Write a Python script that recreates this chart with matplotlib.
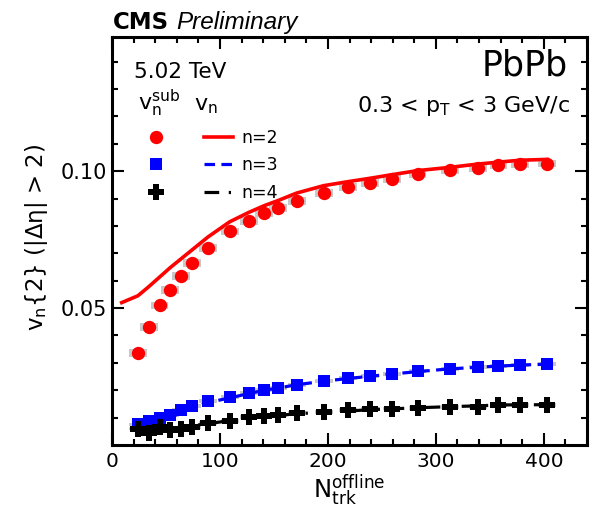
import matplotlib
matplotlib.use("Agg")
import matplotlib.pyplot as plt
from matplotlib.lines import Line2D
import numpy as np

plt.rcParams['font.family'] = ['DejaVu Sans']
plt.rcParams['mathtext.fontset'] = 'custom'
plt.rcParams['mathtext.rm'] = 'DejaVu Sans'
plt.rcParams['mathtext.it'] = 'DejaVu Sans'
plt.rcParams['mathtext.bf'] = 'DejaVu Sans:bold'

# Multiplicity bin centres
n_trk = [24, 34, 44, 54, 64, 74, 89, 109, 127, 141, 154, 171, 196, 219,
         239, 259, 283, 313, 339, 358, 378, 403]

# Subtracted v_n (markers)
v2_sub = [0.0337, 0.0431, 0.0510, 0.0566, 0.0617, 0.0665, 0.0719, 0.0780,
          0.0817, 0.0847, 0.0866, 0.0890, 0.0921, 0.0941, 0.0957, 0.0972,
          0.0988, 0.1003, 0.1012, 0.1021, 0.1027, 0.1028]
v3_sub = [0.0075, 0.0088, 0.0098, 0.0111, 0.0127, 0.0142, 0.0160, 0.0174,
          0.0189, 0.0201, 0.0208, 0.0220, 0.0233, 0.0244, 0.0251, 0.0260,
          0.0269, 0.0279, 0.0285, 0.0288, 0.0293, 0.0295]
v4_sub = [0.0060, 0.0045, 0.0066, 0.0054, 0.0059, 0.0065, 0.0079, 0.0089,
          0.0101, 0.0107, 0.0109, 0.0116, 0.0122, 0.0127, 0.0131, 0.0133,
          0.0135, 0.0138, 0.0140, 0.0146, 0.0146, 0.0146]

# Unsubtracted v_n (lines)
n_trk_line2 = [9] + n_trk
v2_line = [0.0520, 0.0545, 0.0578, 0.0613, 0.0648, 0.0680, 0.0712, 0.0760,
           0.0815, 0.0850, 0.0874, 0.0893, 0.0920, 0.0947, 0.0962, 0.0974,
           0.0987, 0.1002, 0.1014, 0.1026, 0.1033, 0.1040, 0.1043]
v3_line = [0.0070, 0.0080, 0.0090, 0.0100, 0.0118, 0.0135, 0.0155, 0.0172,
           0.0188, 0.0200, 0.0208, 0.0220, 0.0233, 0.0243, 0.0251, 0.0259,
           0.0268, 0.0278, 0.0284, 0.0288, 0.0292, 0.0295]
v4_line = [0.0055, 0.0056, 0.0058, 0.0061, 0.0065, 0.0070, 0.0078, 0.0089,
           0.0098, 0.0104, 0.0108, 0.0114, 0.0120, 0.0124, 0.0129, 0.0132,
           0.0136, 0.0140, 0.0143, 0.0146, 0.0147, 0.0147]

# Systematic uncertainties
v2_sys = 0.0014
v3_sys = 0.0007
v4_sys = 0.0007

W, H = 594, 509
fig = plt.figure(figsize=(W / 100, H / 100), dpi=100)
ax = fig.add_axes([112 / W, 1 - 445 / H, (587 - 112) / W, (445 - 37) / H])


def fp(x, y):
    return x / W, 1 - y / H


RED, BLUE, BLACK, GRAY = '#ff0000', '#0000ff', '#000000', '#c8c8c8'
box_hw = 8.3

for vals, sys in ((v2_sub, v2_sys), (v3_sub, v3_sys), (v4_sub, v4_sys)):
    v = np.array(vals)
    ax.bar(n_trk, 2 * sys, bottom=v - sys, width=2 * box_hw, color=GRAY,
           linewidth=0, zorder=1)

lw = 2.3
ax.plot(n_trk_line2, v2_line, color=RED, lw=2.6, zorder=2)
ax.plot(n_trk, v3_line, color=BLUE, lw=lw, ls=(0, (3.3, 2.0)), zorder=2)
ax.plot(n_trk, v4_line, color=BLACK, lw=lw, ls=(0, (4.6, 3.0, 0.7, 3.0)), zorder=2)

ax.plot(n_trk, v2_sub, 'o', color=RED, ms=9.6, mew=0, zorder=3)
ax.plot(n_trk, v3_sub, 's', color=BLUE, ms=9.3, mew=0, zorder=3)
ax.plot(n_trk, v4_sub, 'P', color=BLACK, ms=11, mew=0, zorder=3)

ax.set_xlim(0, 440)
ax.set_ylim(0.0, 0.149)
ax.set_xticks([0, 100, 200, 300, 400])
ax.set_xticks(np.arange(0, 441, 20), minor=True)
ax.set_yticks([0.05, 0.10])
ax.set_yticklabels(['0.05', '0.10'])
ax.set_yticks(np.arange(0.01, 0.149, 0.01), minor=True)
ax.tick_params(which='both', direction='in', top=True, right=True,
               width=1.5)
ax.tick_params(axis='x', labelsize=14.5, pad=5)
ax.tick_params(axis='y', labelsize=15, pad=3.5)
ax.tick_params(which='major', length=8.6)
ax.tick_params(which='minor', length=4.3)
for s in ax.spines.values():
    s.set_linewidth(2.2)

ax.set_xlabel(r'$\mathrm{N}_{\mathrm{trk}}^{\mathrm{offline}}$', fontsize=17.5)
ax.xaxis.set_label_coords(0.5, -0.068)
ax.xaxis.label.set_va('top')
ax.set_ylabel(r'$\mathrm{v}_{\mathrm{n}}\{2\}$ (|$\Delta\eta$| > 2)', fontsize=16.5)
ax.yaxis.set_label_coords(-0.158, 0.51)
ax.yaxis.label.set_va('center')

# Header
fig.text(*fp(113, 29), 'CMS', fontsize=16.5, fontweight='bold', ha='left',
         va='baseline')
fig.text(*fp(176, 29), 'Preliminary', fontsize=17.5, fontstyle='italic',
         family='Liberation Sans', ha='left', va='baseline')

fig.text(*fp(134, 78), '5.02 TeV', fontsize=15.5, ha='left', va='baseline')
fig.text(*fp(568, 76), 'PbPb', fontsize=25, ha='right', va='baseline')
fig.text(*fp(570, 112), r'0.3 < p$_\mathrm{T}$ < 3 GeV/c', fontsize=16,
         ha='right', va='baseline')

# Legend
fig.text(*fp(138, 110), r'$\mathrm{v}_{\mathrm{n}}^{\mathrm{sub}}$', fontsize=16,
         ha='left', va='baseline')
fig.text(*fp(194, 110), r'$\mathrm{v}_{\mathrm{n}}$', fontsize=16,
         ha='left', va='baseline')

entries = [(137, RED, 'o', 9.6, '-', 2.6, 'n=2'),
           (164, BLUE, 's', 9.3, (0, (3.3, 2.0)), lw, 'n=3'),
           (192, BLACK, 'P', 11, (0, (4.6, 3.0, 0.7, 3.0)), lw, 'n=4')]
for y, c, m, ms, ls, lwid, lab in entries:
    x0, y0 = fp(156, y)
    fig.add_artist(Line2D([x0], [y0], marker=m, color=c, ms=ms, mew=0,
                          transform=fig.transFigure))
    xa, ya = fp(204, y)
    xb, _ = fp(233, y)
    fig.add_artist(Line2D([xa, xb], [ya, ya], color=c, lw=lwid, ls=ls,
                          transform=fig.transFigure))
    fig.text(*fp(241, y + 6), lab, fontsize=12.5, ha='left', va='baseline')

fig.savefig('out.png', dpi=100)
